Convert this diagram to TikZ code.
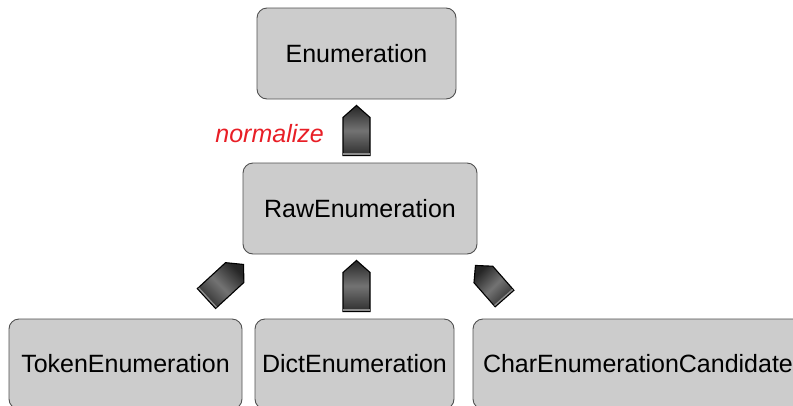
\documentclass[tikz,border=0pt]{standalone}
\usepackage{fontspec}
\setmainfont{Liberation Sans}
\usetikzlibrary{calc}
\definecolor{boxfill}{RGB}{204,204,204}
\definecolor{boxline}{RGB}{80,80,80}
\definecolor{labelred}{RGB}{232,30,38}
\newlength{\arrowhalf}
\setlength{\arrowhalf}{13.5pt}
% block arrow: #1 name, #2 tail, #3 tip, #4 shading angle
\newcommand\blockarrow[4]{%
  \coordinate (#1-s) at ($(#3)!12pt!(#2)$);
  \coordinate (#1-a) at ($(#2)!\arrowhalf!90:(#3)$);
  \coordinate (#1-b) at ($(#2)!\arrowhalf!-90:(#3)$);
  \shade[arrowbody, shading angle=#4]
    (#1-a) -- ($(#1-s)!\arrowhalf!90:(#3)$) -- (#3)
    -- ($(#1-s)!\arrowhalf!-90:(#3)$) -- (#1-b) -- cycle;
  \draw[arrowbase] ($(#1-a)!1.5pt!(#3)$) -- ($(#1-b)!1.5pt!(#3)$);
}
\begin{document}
\begin{tikzpicture}[x=1pt,y=-1pt,
  cls/.style={draw=boxline, line width=0.9pt, fill=boxfill,
    rounded corners=10pt, inner sep=0pt,
    font=\fontsize{25}{30}\selectfont},
  arrowbody/.style={draw=black, line width=1.1pt, line join=miter,
    left color=black!85, right color=black!82, middle color=black!55},
  arrowbase/.style={draw=black!45, line width=1.3pt},
  lbl/.style={text=labelred, inner sep=0pt,
    font=\itshape\fontsize{25}{30}\selectfont}]
\useasboundingbox (0,0) rectangle (793,405);
\clip (0,0) rectangle (793,405);

% class boxes
\node[cls, minimum width=199pt, minimum height=91pt] (enum) at (356.5,53.5) {Enumeration};
\node[cls, minimum width=234pt, minimum height=91pt] (raw) at (360,208.5) {RawEnumeration};
\node[cls, minimum width=233pt, minimum height=90pt] (token) at (125.5,364) {TokenEnumeration};
\node[cls, minimum width=199pt, minimum height=90pt] (dict) at (354.5,364) {DictEnumeration};
\node[cls, minimum width=330pt, minimum height=90pt] (char) at (638,364) {CharEnumerationCandidate};

% arrow end points
\coordinate (n-tail) at ($(raw.north)+(-3.5,-7)$);
\coordinate (n-tip)  at ($(enum.south)+(0,6)$);
\coordinate (d-tail) at ($(dict.north)+(2,-7)$);
\coordinate (d-tip)  at ($(raw.south)+(-3.5,6)$);
\coordinate (t-tail) at ($(token.north east)+(-36,-20)$);
\coordinate (t-tip)  at ($(raw.south west)+(1,10)$);
\coordinate (c-tail) at ($(char.north west)+(32,-20)$);
\coordinate (c-tip)  at ($(raw.south east)+(-2,11)$);

% generalisation arrows
\blockarrow{norm}{n-tail}{n-tip}{0}
\blockarrow{fromdict}{d-tail}{d-tip}{0}
\blockarrow{fromtoken}{t-tail}{t-tip}{-45}
\setlength{\arrowhalf}{12.5pt}
\blockarrow{fromchar}{c-tail}{c-tip}{45}

\node[lbl, anchor=base east] (normlabel) at (324,142) {normalize};
\end{tikzpicture}
\end{document}
